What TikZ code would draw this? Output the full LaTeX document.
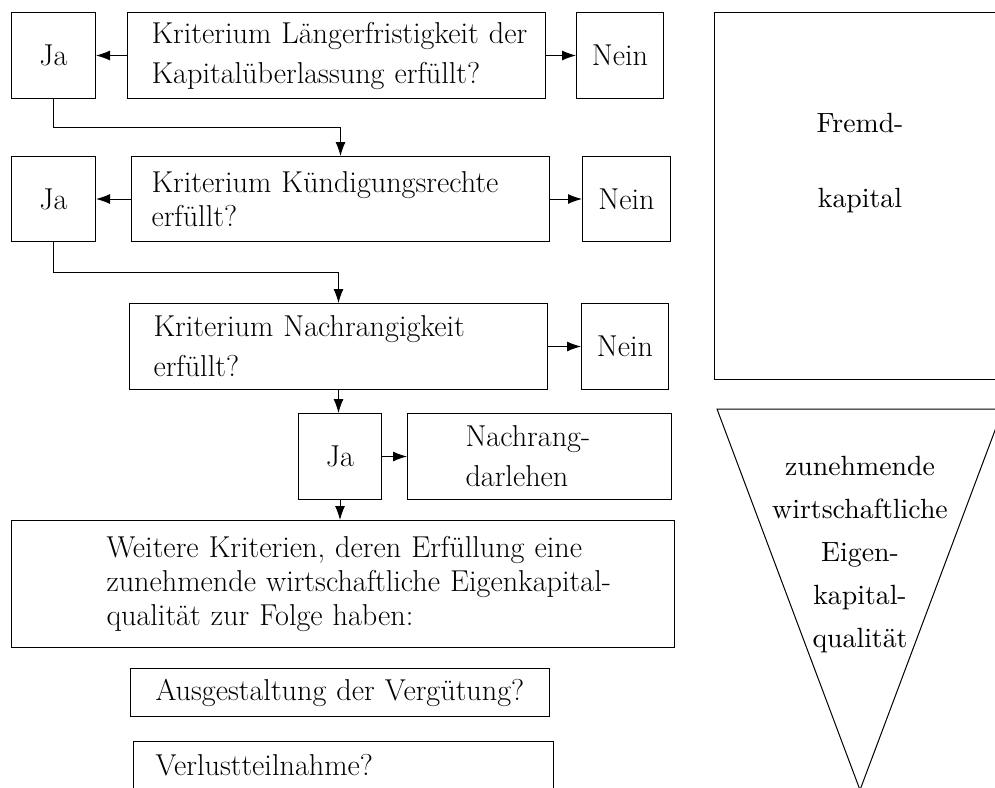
\documentclass[tikz,border=0pt]{standalone}
\usepackage{fontspec}
\newfontfamily\critfont{lmroman17-regular}[Extension=.otf]
\newfontfamily\panelfont{lmroman10-regular}[Extension=.otf]
\usetikzlibrary{arrows.meta}

\newcommand{\boxfont}{\critfont\fontsize{15.1pt}{20pt}\selectfont}
\newcommand{\tightfont}{\critfont\fontsize{15.1pt}{17pt}\selectfont}
\newcommand{\sidefont}{\panelfont\fontsize{13.9pt}{21.5pt}\selectfont}

\begin{document}
\begin{tikzpicture}[
    x=0.5pt, y=-0.5pt,
    line width=0.5pt,
    every node/.style={font=\boxfont},
    answer/.style={draw, anchor=north west, minimum width=42pt, minimum height=43pt, inner sep=0pt},
    crit/.style={draw, anchor=north west, align=left, inner xsep=0pt, inner ysep=0pt, text width=#1},
    indented/.style={execute at begin node={\leftskip=#1\rightskip=-40pt plus 1fil}},
    arrow/.style={-{Latex[length=7pt,width=5pt]}}
]

    % Page frame
    \useasboundingbox (0,0) rectangle (995,787);
    \clip (0,0) rectangle (995,787);

    % First criterion
    \node[answer] (ja1) at (11,12) {Ja};
    \node[crit=209pt, indented=12pt, minimum height=43pt] (crit1) at (127,12)
        {Kriterium Längerfristigkeit der\\Kapitalüberlassung erfüllt?};
    \node[answer, minimum width=43.5pt] (nein1) at (576,12) {Nein};

    % Second criterion
    \node[answer, minimum height=42.5pt] (ja2) at (11,156) {Ja};
    \node[crit=209pt, indented=10pt, minimum height=42.5pt, font=\tightfont] (crit2) at (131,156)
        {Kriterium Kündigungsrechte\\erfüllt?};
    \node[answer, minimum width=44pt, minimum height=42.5pt] (nein2) at (582,156) {Nein};

    % Third criterion
    \node[crit=209pt, indented=12pt, minimum height=43pt] (crit3) at (129,303)
        {Kriterium Nachrangigkeit\\erfüllt?};
    \node[answer, minimum width=43.5pt] (nein3) at (581,303) {Nein};
    \node[answer, minimum width=41.5pt] (ja3) at (298,413) {Ja};
    \node[crit=132pt, indented=29pt, minimum height=43pt] (nachrang) at (407,413)
        {Nachrang-\\darlehen};

    % Further criteria
    \node[crit=331.5pt, indented=47.5pt, minimum height=63.5pt, font=\tightfont] (weitere) at (11,520)
        {Weitere Kriterien, deren Erfüllung eine\\zunehmende wirtschaftliche Eigenkapital-\\qualität zur Folge haben:};
    \node[crit=209.5pt, indented=12.5pt, minimum height=24pt] (verguetung) at (130,668)
        {Ausgestaltung der Vergütung?};
    \node[crit=210pt, indented=11pt, minimum height=24pt] (verlust) at (133,741)
        {Verlustteilnahme?};

    % Connectors
    \draw[arrow] (crit1) -- (ja1);
    \draw[arrow] (crit1) -- (nein1);
    \draw[arrow] (ja1.south) -- ++(0,28) -| (crit2.north);
    \draw[arrow] (crit2) -- (ja2);
    \draw[arrow] (crit2) -- (nein2);
    \draw[arrow] (ja2.south) -- ++(0,30) -| (crit3.north);
    \draw[arrow] (crit3) -- (nein3);
    \draw[arrow] (crit3.south) -- (crit3.south |- ja3.north);
    \draw[arrow] (ja3) -- (nachrang);
    \draw[arrow] (ja3.south) -- (ja3.south |- weitere.north);

    % Right panel
    \node[draw, anchor=north west, minimum width=146pt, minimum height=183.5pt, inner sep=0pt] (fremdbox) at (714,12) {};
    \node[align=center, font={\panelfont\fontsize{13.9pt}{37.5pt}\selectfont}] (fremd) at (860,163) {Fremd-\\kapital};

    \coordinate (tl) at (717,409); % top left
    \coordinate (tr) at (1003,409); % top right
    \coordinate (tip) at (860,790); % bottom
    \draw (tl) -- (tr) -- (tip) -- cycle;
    \node[align=center, font=\sidefont] (quali) at (860,555)
        {zunehmende\\wirtschaftliche\\Eigen-\\kapital-\\qualität};

\end{tikzpicture}
\end{document}
